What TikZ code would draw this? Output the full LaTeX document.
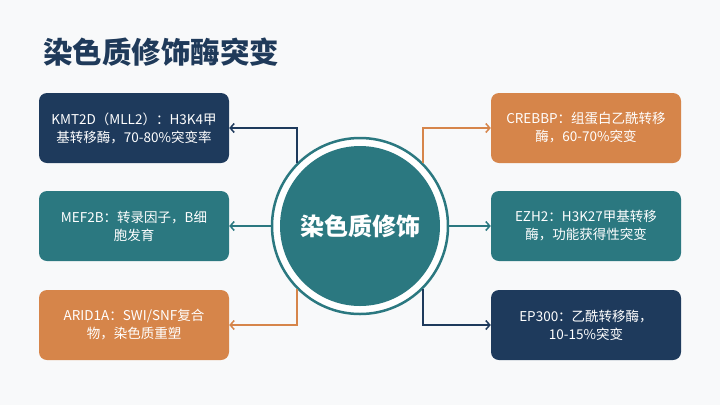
\documentclass[tikz,border=0pt]{standalone}
\usepackage{fontspec}
\setmainfont{Noto Sans CJK SC}
\usetikzlibrary{arrows.meta}
\definecolor{navy}{HTML}{1E3A5C}
\definecolor{tealc}{HTML}{2B7880}
\definecolor{orangec}{HTML}{D6854A}
\definecolor{paper}{HTML}{F8F9FA}
\definecolor{titlec}{HTML}{1F3A5A}

\begin{document}
\begin{tikzpicture}[x=1pt,y=-1pt,
    box/.style={rounded corners=8pt, minimum width=190pt, minimum height=70pt,
      text=white, align=center, font=\fontsize{13.5}{18}\selectfont, inner sep=0pt},
    link/.style={line width=1.5pt, -{Straight Barb[length=4pt,width=9pt]}}]
    % Frame
    \fill[paper] (0,0) rectangle (720,405);
    \useasboundingbox (0,0) rectangle (720,405);
    % Title
    \node[anchor=west, inner sep=0pt, text=titlec,
      font=\fontsize{29.5}{34}\selectfont\bfseries] (title) at (43,52) {染色质修饰酶突变};
    % Hub
    \node[circle, draw=tealc, line width=2.5pt, fill=white, minimum size=176pt,
      inner sep=0pt] (ring) at (360,226) {};
    \node[circle, fill=tealc, minimum size=160pt, inner sep=0pt, text=white,
      font=\fontsize{24}{28}\selectfont\bfseries] (hub) at (360,226) {染色质修饰};
    % Boxes
    \node[box, fill=navy] (kmt) at (134,128) {KMT2D（MLL2）：H3K4甲\\基转移酶，70-80\%突变率};
    \node[box, fill=tealc] (mef) at (134,226) {MEF2B：转录因子，B细\\胞发育};
    \node[box, fill=orangec] (arid) at (134,325) {ARID1A：SWI/SNF复合\\物，染色质重塑};
    \node[box, fill=orangec] (crebbp) at (586,128) {CREBBP：组蛋白乙酰转移\\酶，60-70\%突变};
    \node[box, fill=tealc] (ezh) at (586,226) {EZH2：H3K27甲基转移\\酶，功能获得性突变};
    \node[box, fill=navy] (ep) at (586,325) {EP300：乙酰转移酶，\\10-15\%突变};
    % Ways
    \draw[link, navy] (ring.135) |- (kmt.east);
    \draw[link, tealc] (ring.west) -- (mef.east);
    \draw[link, orangec] (ring.225) |- (arid.east);
    \draw[link, orangec] (ring.45) |- (crebbp.west);
    \draw[link, tealc] (ring.east) -- (ezh.west);
    \draw[link, navy] (ring.-45) |- (ep.west);
  \end{tikzpicture}
\end{document}
